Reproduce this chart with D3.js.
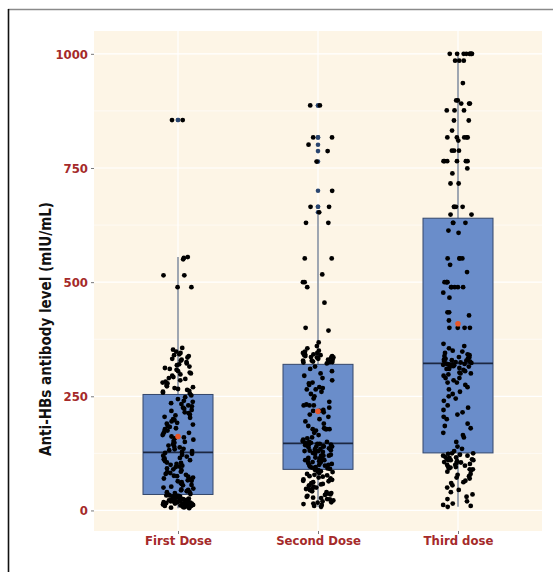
<!DOCTYPE html>
<html><head><meta charset="utf-8">
<script src="https://cdn.jsdelivr.net/npm/d3@7"></script>
<style>body{margin:0;background:#fff}svg{display:block}
text{font-family:"DejaVu Sans Condensed","DejaVu Sans",sans-serif;font-stretch:condensed;font-weight:bold}</style>
</head><body><svg id="c" width="553" height="572"></svg>
<script>
const categories = ["First Dose", "Second Dose", "Third dose"];
const yTicks = [0, 250, 500, 750, 1000];
const yMinor = [125, 375, 625, 875];

const firstDose = [5,6,7,8,8,9,10,10,11,12,12,13,14,14,15,15,16,17,18,18,19,20,20,21,22,22,23,24,24,25,25,26,27,28,28,29,30,30,31,32,32,33,33,34,34,10,12,15,20,25,
36,38,40,40,42,44,45,46,48,50,52,55,56,58,60,62,64,65,66,68,70,72,74,75,76,78,80,82,84,85,88,90,92,95,96,98,100,102,104,105,108,110,112,114,115,118,120,122,124,126,
128,130,132,134,135,138,140,142,145,148,150,152,155,158,160,162,165,168,170,172,175,178,180,183,185,188,190,192,195,198,200,203,205,208,210,213,215,218,220,223,225,228,230,233,235,238,240,244,248,252,
855,855,553,555,550,515,515,489,489,
256,258,260,262,264,266,268,270,272,275,278,280,282,285,288,290,292,295,298,300,302,305,308,310,312,315,318,320,322,325,328,330,332,335,338,340,342,345,348,352,356];

const secondDose = [8,10,12,14,15,17,18,20,22,24,25,27,28,30,32,34,35,37,38,40,42,44,45,47,48,50,52,54,55,57,58,60,62,64,65,67,68,70,72,74,75,77,78,80,82,84,85,86,88,89,
91,92,94,95,96,98,100,100,102,104,105,106,108,110,110,112,114,115,116,118,120,120,122,124,125,126,128,130,130,131,132,134,135,136,138,140,140,141,142,143,144,145,145,146,146,140,130,120,110,100,
148,148,150,150,152,155,158,160,165,170,175,178,178,178,178,180,185,190,195,200,205,210,215,218,218,220,225,230,230,230,232,238,245,250,255,260,265,265,268,270,275,278,280,285,290,295,300,305,310,315,
322,324,325,326,328,330,330,332,334,335,336,338,340,340,342,345,348,350,355,360,368,394,400,455,489,500,500,517,552,552,630,630,653,665,665,700,764,787,801,817,817,887,887,325,335,345,335,328,338,342];

const thirdDose = [8,10,12,15,20,25,30,35,40,45,50,55,60,62,65,70,72,75,78,80,85,88,90,90,92,94,95,96,98,100,100,102,104,105,106,108,110,110,112,114,115,116,118,120,120,122,124,125,125,110,
130,135,140,150,160,165,170,180,185,190,200,205,210,215,220,225,230,240,245,250,255,260,265,270,275,280,285,290,295,298,300,302,305,308,310,312,314,315,316,318,318,319,320,320,321,321,300,310,290,280,
323,324,325,326,327,328,329,330,332,333,335,336,338,340,342,345,348,350,355,360,365,400,400,400,400,416,427,434,434,466,477,489,489,489,489,489,500,500,500,500,522,538,552,552,552,552,608,613,630,630,
648,648,665,665,665,665,716,716,738,749,765,765,765,765,765,765,788,788,788,810,817,817,817,817,817,832,854,854,876,876,876,891,891,891,898,898,936,985,985,985,1000,1000,1000,1000,1000,1000,1000,1000,630,1000];

// box statistics: [whiskerLow, q1, median, q3, whiskerHigh]
const boxStats = [[5,35,127,254,555],[8,90,147,320,648],[8,126,322,640,1000]];
const means = [162, 217, 409];

const series = [firstDose, secondDose, thirdDose];

const svg = d3.select("#c");
const P = {l:94, r:542, t:31, b:531};
const y = d3.scaleLinear().domain([-45,1050]).range([P.b,P.t]);
const x = d3.scalePoint().domain(categories).range([P.l,P.r]).padding(0.6);
const unit = x.step();
const brown = "#A52A2A";

// frame
svg.append("line").attr("x1",8).attr("x2",553).attr("y1",9.5).attr("y2",9.5).attr("stroke","#8a8a8a").attr("stroke-width",1.3);
svg.append("line").attr("x1",8.5).attr("x2",8.5).attr("y1",9).attr("y2",572).attr("stroke","#111").attr("stroke-width",1.6);

// panel
svg.append("rect").attr("x",P.l).attr("y",P.t).attr("width",P.r-P.l).attr("height",P.b-P.t).attr("fill","#FDF5E6");
const g = svg.append("g");
g.selectAll(".mn").data(yMinor).join("line").attr("x1",P.l).attr("x2",P.r)
 .attr("y1",d=>y(d)).attr("y2",d=>y(d)).attr("stroke","#fff").attr("stroke-width",0.6);
g.selectAll(".mj").data(yTicks).join("line").attr("x1",P.l).attr("x2",P.r)
 .attr("y1",d=>y(d)).attr("y2",d=>y(d)).attr("stroke","#fff").attr("stroke-width",1.2);
g.selectAll(".vx").data(categories).join("line").attr("y1",P.t).attr("y2",P.b)
 .attr("x1",d=>x(d)).attr("x2",d=>x(d)).attr("stroke","#fff").attr("stroke-width",1.2);

// axes
const yAxis = d3.axisLeft(y).tickValues(yTicks).tickFormat(d3.format("d")).tickSize(3).tickPadding(3);
const ya = svg.append("g").attr("transform",`translate(${P.l},0)`).call(yAxis);
const xAxis = d3.axisBottom(x).tickSize(3).tickPadding(2);
const xa = svg.append("g").attr("transform",`translate(0,${P.b})`).call(xAxis);
[ya,xa].forEach(a=>{a.select(".domain").remove();
 a.selectAll(".tick line").attr("stroke","#555").attr("stroke-width",0.8);
 a.selectAll(".tick text").attr("fill",brown).style("font-size","13px");});

svg.append("text").attr("transform",`translate(51,329) rotate(-90)`)
 .attr("text-anchor","middle").attr("fill","#111").style("font-size","15px")
 .text("Anti-HBs antibody level (mIU/mL)");

// boxplots
const bw = unit*0.5;
categories.forEach((c,i)=>{
  const [wl,q1,md,q3,wh] = boxStats[i];
  const cx = x(c);
  const bg = svg.append("g");
  bg.append("line").attr("x1",cx).attr("x2",cx).attr("y1",y(wh)).attr("y2",y(q3)).attr("stroke","#5f6f85").attr("stroke-width",1.2);
  bg.append("line").attr("x1",cx).attr("x2",cx).attr("y1",y(q1)).attr("y2",y(wl)).attr("stroke","#5f6f85").attr("stroke-width",1.2);
  bg.append("rect").attr("x",cx-bw/2).attr("width",bw).attr("y",y(q3)).attr("height",y(q1)-y(q3))
    .attr("fill","#6A8DCA").attr("stroke","#34466a").attr("stroke-width",1);
  bg.append("line").attr("x1",cx-bw/2).attr("x2",cx+bw/2).attr("y1",y(md)).attr("y2",y(md)).attr("stroke","#1c2842").attr("stroke-width",1.8);
  const outl = series[i].filter(v=>v>wh || v<wl);
  bg.selectAll("circle").data(outl).join("circle").attr("cx",cx).attr("cy",d=>y(d)).attr("r",2.3).attr("fill","#2a4670");
});

// jittered points (deterministic jitter)
const rng = d3.randomUniform.source(d3.randomLcg(0.4271))(-1,1);
categories.forEach((c,i)=>{
  const cx = x(c);
  svg.append("g").selectAll("circle").data(series[i]).join("circle")
    .attr("cx",()=>cx + rng()*unit*0.11).attr("cy",d=>y(d)).attr("r",2.4).attr("fill","#000");
});

// means
svg.append("g").selectAll("circle").data(means).join("circle")
  .attr("cx",(d,i)=>x(categories[i])).attr("cy",d=>y(d)).attr("r",2.8).attr("fill","#E8572A");
</script></body></html>
